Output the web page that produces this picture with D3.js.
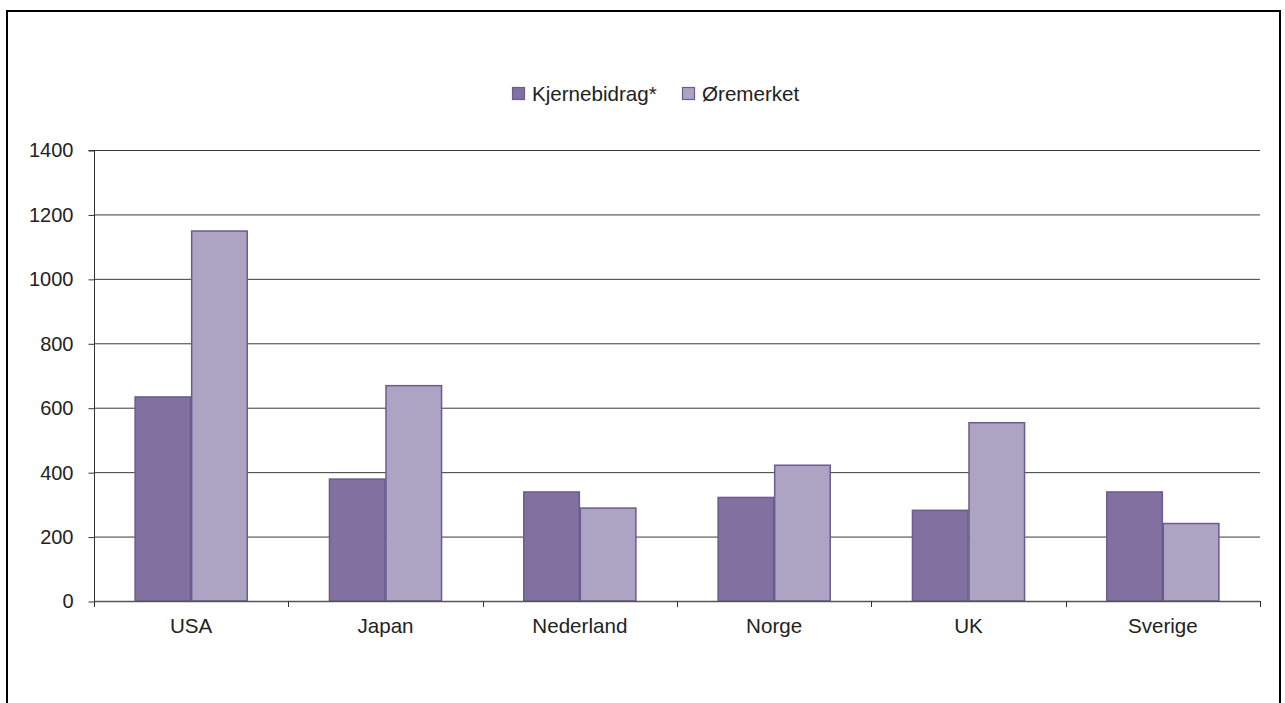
<!DOCTYPE html>
<html><head><meta charset="utf-8">
<script src="https://cdn.jsdelivr.net/npm/d3@7"></script>
<style>body{margin:0;background:#fff;}svg{display:block;font-family:"Liberation Sans",Arial,sans-serif;}</style>
</head><body><svg id="c" width="1285" height="703"></svg>
<script>
const categories = ["USA","Japan","Nederland","Norge","UK","Sverige"];
const seriesNames = ["Kjernebidrag*","Øremerket"];
const kjernebidrag = [635, 380, 340, 323, 283, 340];
const oremerket = [1150, 670, 290, 423, 555, 242];
const yTicks = [0,200,400,600,800,1000,1200,1400];
const colors = ["#8170a0","#ada4c4"];
const strokeCol = "#6b5b8e";
const FS = "20.6px";

const svg = d3.select("#c");
svg.append("rect").attr("x",7).attr("y",11).attr("width",1273).attr("height",720)
  .attr("fill","none").attr("stroke","#000").attr("stroke-width",2);

const m = {l:94, r:1260, t:150, b:601};
const x = d3.scaleBand().domain(categories).range([m.l,m.r]).paddingInner(0.418).paddingOuter(0.209);
const x1 = d3.scaleBand().domain(seriesNames).range([0,x.bandwidth()]);
const y = d3.scaleLinear().domain([0,1400]).range([m.b,m.t]);

// grid
svg.append("g").selectAll("line").data(yTicks.filter(d=>d>0)).join("line")
  .attr("x1",m.l).attr("x2",m.r).attr("y1",d=>y(d)+0.5).attr("y2",d=>y(d)+0.5)
  .attr("stroke","#3a3a3a").attr("stroke-width",1);

// y axis
const ya = svg.append("g").attr("transform",`translate(${m.l+0.5},0.5)`)
  .call(d3.axisLeft(y).tickValues(yTicks).tickFormat(d3.format("d")).tickSize(6).tickPadding(15));
ya.select(".domain").attr("stroke","#333").attr("d",`M-6,${y(1400)}H0V${y(0)}`);
ya.selectAll(".tick line").attr("stroke","#333");
ya.selectAll("text").attr("font-size","20px").attr("fill","#222").attr("font-family","Liberation Sans, Arial, sans-serif");

// bars
const data = categories.map((c,i)=>({c, vals:[kjernebidrag[i], oremerket[i]]}));
const g = svg.append("g").selectAll("g").data(data).join("g")
  .attr("transform",d=>`translate(${x(d.c)},0)`);
g.selectAll("rect").data(d=>d.vals.map((v,j)=>({k:seriesNames[j],v,j}))).join("rect")
  .attr("x",d=>x1(d.k)+0.5).attr("width",x1.bandwidth()-1)
  .attr("y",d=>y(d.v)+0.5).attr("height",d=>y(0)-y(d.v)-0.5)
  .attr("fill",d=>colors[d.j]).attr("stroke",strokeCol).attr("stroke-width",1.5);

// x axis
const boundaries = d3.range(categories.length+1).map(i=>m.l+i*(m.r-m.l)/categories.length);
const xa = svg.append("g");
xa.append("line").attr("x1",m.l).attr("x2",m.r).attr("y1",m.b+0.5).attr("y2",m.b+0.5).attr("stroke","#555").attr("stroke-width",1.5);
xa.selectAll("line.t").data(boundaries).join("line").attr("class","t")
  .attr("x1",d=>Math.round(d)+0.5).attr("x2",d=>Math.round(d)+0.5).attr("y1",m.b).attr("y2",m.b+6).attr("stroke","#333");
xa.selectAll("text").data(categories).join("text")
  .attr("x",d=>x(d)+x.bandwidth()/2).attr("y",633).attr("text-anchor","middle")
  .attr("font-size",FS).attr("fill","#222").text(d=>d);

// legend
const leg = svg.append("g");
const legX = [512, 682];
seriesNames.forEach((s,i)=>{
  leg.append("rect").attr("x",legX[i]+0.5).attr("y",87.5).attr("width",12).attr("height",12)
    .attr("fill",colors[i]).attr("stroke",strokeCol).attr("stroke-width",1.2);
  leg.append("text").attr("x",legX[i]+20).attr("y",101).attr("font-size",FS).attr("fill","#222").text(s);
});
</script></body></html>
